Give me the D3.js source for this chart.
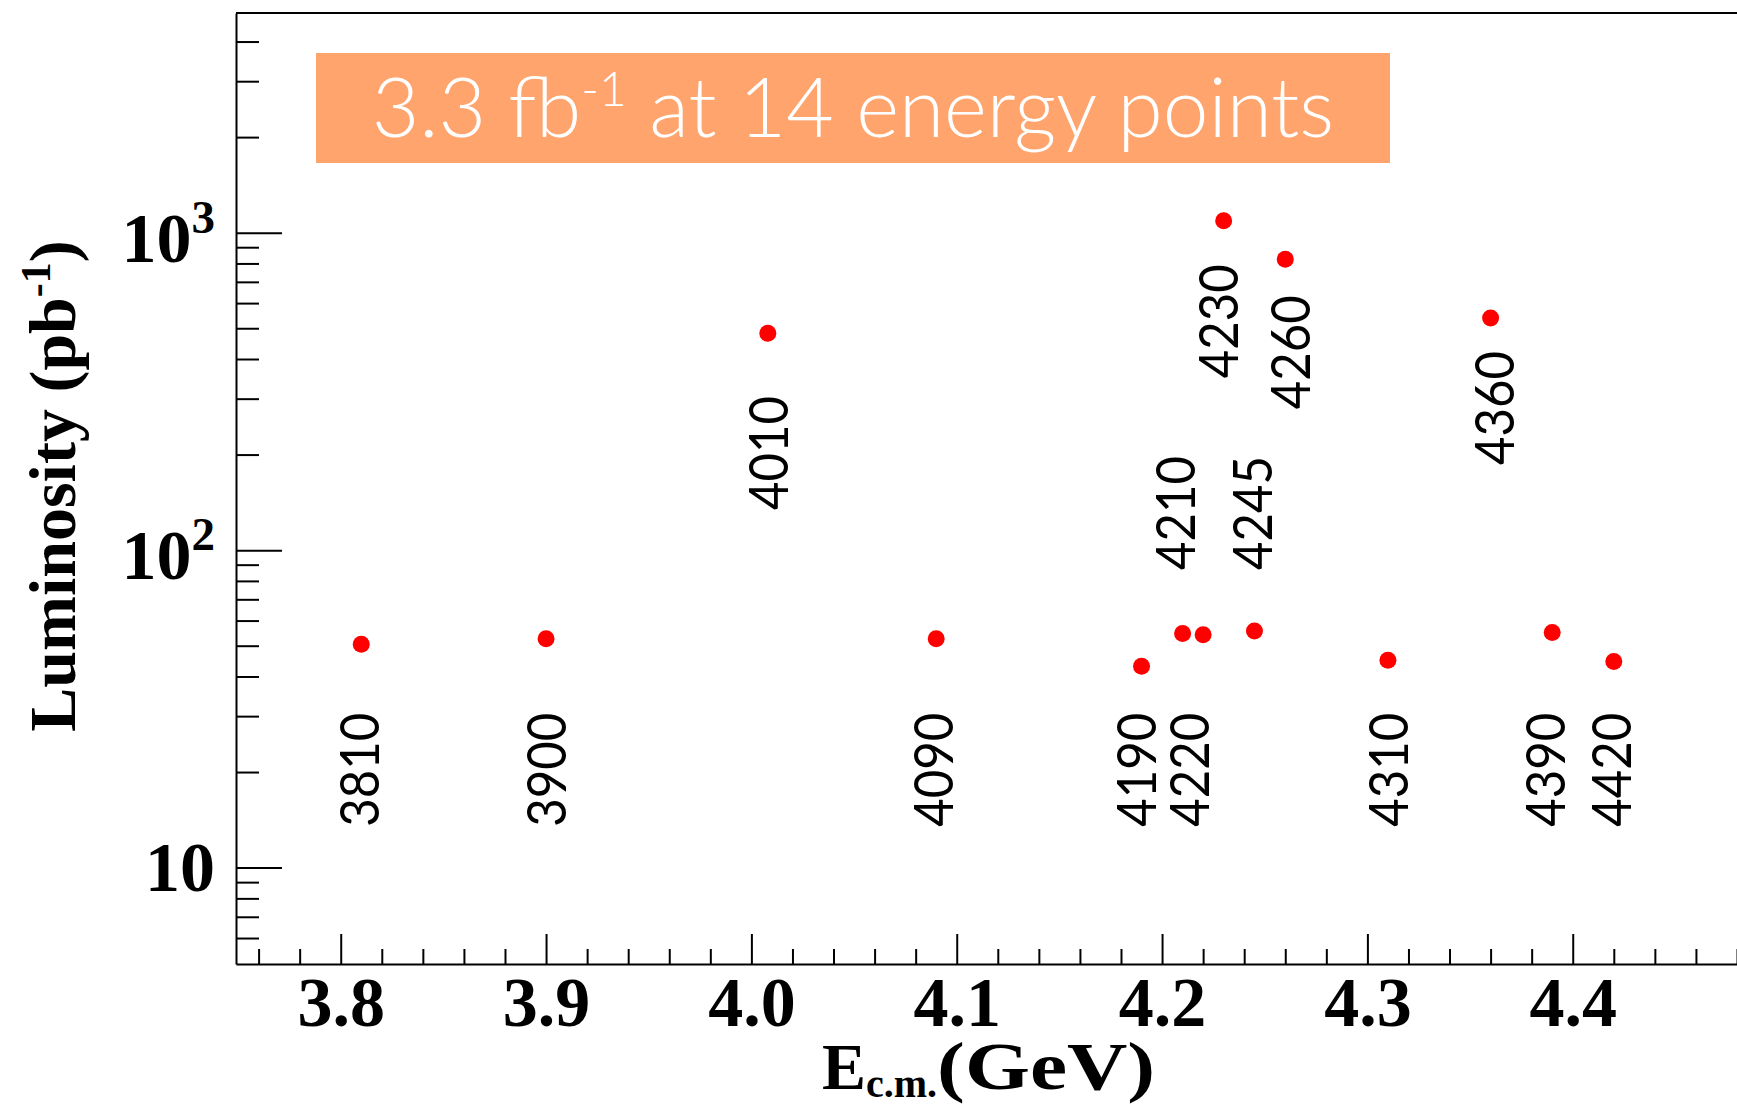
<!DOCTYPE html>
<html>
<head>
<meta charset="utf-8">
<script src="https://cdn.jsdelivr.net/npm/d3@7"></script>
<style>
  html, body { margin: 0; padding: 0; background: #ffffff; }
  svg { display: block; }
</style>
</head>
<body>
<script>
// Integrated luminosity collected at each centre-of-mass energy
const energies   = [3.810, 3.900, 4.008, 4.090, 4.190, 4.210, 4.220, 4.230, 4.245, 4.260, 4.310, 4.360, 4.390, 4.420];
const luminosity = [50.5, 52.6, 482, 52.6, 43.1, 54.6, 54.1, 1090, 55.6, 825, 45.0, 539, 55.0, 44.6];
const pointNames = ["3810", "3900", "4010", "4090", "4190", "4210", "4220", "4230", "4245", "4260", "4310", "4360", "4390", "4420"];

// Annotation anchors (data units: GeV, pb^-1) where each rotated name starts
const labelEnergy = [3.8092, 3.9002, 4.0082, 4.0886, 4.1877, 4.2068, 4.2133, 4.2277, 4.2441, 4.2627, 4.3102, 4.3617, 4.3868, 4.4190];
const labelLum    = [13.46, 13.46, 133.8, 13.46, 13.46, 86.6, 13.46, 347.8, 86.6, 277.8, 13.46, 185.5, 13.46, 13.46];

// Axis ticks
const xMajorTicks = [3.8, 3.9, 4.0, 4.1, 4.2, 4.3, 4.4];
const xTickLabels = ["3.8", "3.9", "4.0", "4.1", "4.2", "4.3", "4.4"];
const yMajorTicks = [10, 100, 1000];
const yTickExponents = ["", "2", "3"];

const bannerParts = ["3.3 fb", "-1", " at 14 energy points"];

const W = 1737, H = 1108;
const plotLeft = 236, plotTop = 13, plotBottom = 964;

const svg = d3.select("body").append("svg")
  .attr("width", W).attr("height", H);

const x = d3.scaleLinear().domain([3.749, 4.480]).range([plotLeft, W]);
const y = d3.scaleLog().domain([4.97, 4920]).range([plotBottom, plotTop]);

const serif = "'Liberation Serif', 'Times New Roman', serif";
const gothic = "Lato, 'Open Sans', sans-serif";

// top frame line
svg.append("line")
  .attr("x1", plotLeft).attr("x2", W)
  .attr("y1", y(4920)).attr("y2", y(4920))
  .attr("stroke", "#000").attr("stroke-width", 2);

// ---- y axis: minor ticks 2..9 per decade
const yMinor = [];
[1, 10, 100, 1000].forEach(d => {
  for (let m = 2; m <= 9; m++) {
    const v = m * d;
    if (v > 5.3 && v < 4800) yMinor.push(v);
  }
});
svg.append("g")
  .attr("transform", `translate(${plotLeft},0)`)
  .call(d3.axisLeft(y).tickValues(yMinor).tickSize(-23).tickSizeOuter(0).tickFormat(() => ""))
  .call(g => g.select(".domain").remove())
  .call(g => g.selectAll("line").attr("stroke-width", 2));

const yAxis = svg.append("g")
  .attr("transform", `translate(${plotLeft},0)`)
  .call(d3.axisLeft(y).tickValues(yMajorTicks).tickSize(-46).tickSizeOuter(0).tickPadding(21).tickFormat(() => ""));
yAxis.select(".domain").attr("stroke-width", 2);
yAxis.selectAll("line").attr("stroke-width", 2);
yAxis.selectAll(".tick text").each(function (d, i) {
  const t = d3.select(this)
    .attr("font-family", serif).attr("font-weight", "bold")
    .attr("font-size", 70).attr("fill", "#000")
    .attr("dy", yTickExponents[i] ? "0.41em" : "0.33em");
  t.append("tspan").text("10");
  if (yTickExponents[i]) {
    t.append("tspan").attr("font-size", 47).attr("dy", -29).text(yTickExponents[i]);
  }
});

// ---- x axis
const xMinor = d3.range(3.76, 4.481, 0.02)
  .filter(v => Math.abs(v * 10 - Math.round(v * 10)) > 1e-6);
svg.append("g")
  .attr("transform", `translate(0,${plotBottom})`)
  .call(d3.axisBottom(x).tickValues(xMinor).tickSize(-15).tickSizeOuter(0).tickFormat(() => ""))
  .call(g => g.select(".domain").remove())
  .call(g => g.selectAll("line").attr("stroke-width", 2));

const xAxis = svg.append("g")
  .attr("transform", `translate(0,${plotBottom})`)
  .call(d3.axisBottom(x).tickValues(xMajorTicks).tickSize(-30).tickSizeOuter(0)
    .tickFormat((d, i) => xTickLabels[i]));
xAxis.select(".domain").attr("stroke-width", 2);
xAxis.selectAll("line").attr("stroke-width", 2);
xAxis.selectAll(".tick text")
  .attr("font-family", serif).attr("font-weight", "bold")
  .attr("font-size", 70).attr("fill", "#000")
  .attr("y", 62).attr("dy", 0);

// ---- axis titles
const yTitle = svg.append("text")
  .attr("transform", "translate(75,486) rotate(-90)")
  .attr("text-anchor", "middle")
  .attr("font-family", serif).attr("font-weight", "bold")
  .attr("font-size", 66).attr("fill", "#000");
yTitle.append("tspan").text("Luminosity (pb");
yTitle.append("tspan").attr("font-size", 42).attr("dy", -25).text("-1");
yTitle.append("tspan").attr("dy", 25).text(")");

const xTitle = svg.append("text")
  .attr("x", 822).attr("y", 1089)
  .attr("font-family", serif).attr("font-weight", "bold")
  .attr("font-size", 66).attr("fill", "#000");
xTitle.append("tspan").text("E");
xTitle.append("tspan").attr("font-size", 40).attr("dy", 8).text("c.m.");
xTitle.append("tspan").attr("dy", -8).attr("font-size", 68)
  .attr("textLength", 218).attr("lengthAdjust", "spacingAndGlyphs")
  .text("(GeV)");

// ---- banner
svg.append("rect")
  .attr("x", 316).attr("y", 53).attr("width", 1074).attr("height", 110)
  .attr("fill", "#FFA46C");
const banner = svg.append("text")
  .attr("x", 853).attr("y", 137)
  .attr("text-anchor", "middle")
  .attr("font-family", gothic).attr("font-weight", 300)
  .attr("font-size", 82).attr("fill", "#ffffff");
banner.append("tspan").text(bannerParts[0]);
banner.append("tspan").attr("font-size", 48).attr("dy", -31).text(bannerParts[1]);
banner.append("tspan").attr("dy", 31).text(bannerParts[2]);

// ---- data points
svg.append("g").selectAll("circle")
  .data(energies)
  .join("circle")
  .attr("cx", d => x(d))
  .attr("cy", (d, i) => y(luminosity[i]))
  .attr("r", 8.5)
  .attr("fill", "#ff0000");

// ---- rotated energy-point names
svg.append("g").selectAll("text")
  .data(pointNames)
  .join("text")
  .attr("transform", (d, i) => `translate(${x(labelEnergy[i])},${y(labelLum[i])}) rotate(-90)`)
  .attr("dy", "0.36em")
  .attr("font-family", gothic)
  .attr("font-size", 54)
  .attr("fill", "#000")
  .attr("textLength", 114)
  .attr("lengthAdjust", "spacingAndGlyphs")
  .text(d => d);
</script>
</body>
</html>
